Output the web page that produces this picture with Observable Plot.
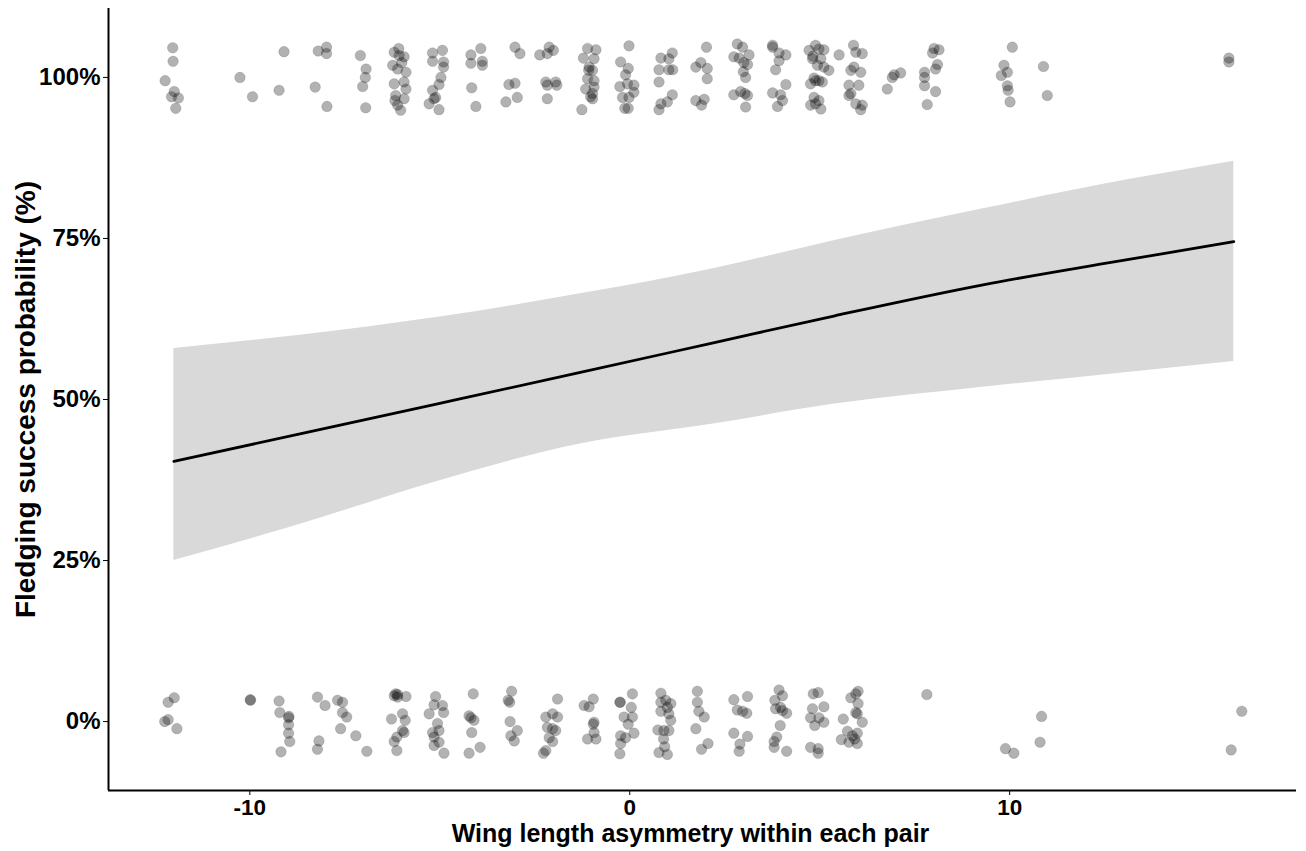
<!DOCTYPE html>
<html>
<head>
<meta charset="utf-8">
<script src="https://cdn.jsdelivr.net/npm/d3@7"></script>
<script src="https://cdn.jsdelivr.net/npm/@observablehq/plot@0.6"></script>
<style>
  html, body { margin: 0; padding: 0; background: #fff; }
  #chart { width: 1306px; height: 851px; }
</style>
</head>
<body>
<div id="chart"></div>
<script>
// ---- Data ----
// Fledged nests (outcome 1, shown with vertical jitter)
const fledgedX = [-12.03,-12.02,-12.23,-11.99,-12.06,-11.88,-11.95,-10.26,-9.93,-9.23,-9.10,-8.28,-8.20,-7.98,-7.98,-7.97,-7.09,-6.94,-6.96,-7.03,-6.95,
 -6.20,-6.07,-5.94,-6.24,-6.11,-5.89,-6.20,-5.94,-5.89,-6.16,-5.94,-6.11,-6.03,-6.08,-6.00,-6.18,
 -5.19,-4.93,-5.19,-4.90,-4.90,-4.97,-5.02,-5.19,-5.15,-5.28,-5.02,-5.11,
 -3.92,-4.18,-4.18,-3.88,-3.88,-4.16,-4.05,
 -3.02,-2.89,-3.18,-3.02,-2.96,-3.26,
 -2.37,-2.12,-2.17,-2.01,-2.21,-2.17,-1.95,-1.92,-2.17,
 -1.11,-0.89,-1.22,-0.94,-1.07,-0.98,-1.11,-0.94,-1.16,-0.94,-0.98,-0.98,-1.26,-1.03,-1.08,
 -0.02,-0.24,-0.04,-0.11,-0.26,-0.06,0.11,0.11,-0.19,-0.02,-0.13,-0.04,
 1.12,0.82,1.03,0.77,1.03,0.77,1.12,0.99,0.82,0.77,1.13,
 2.02,1.74,1.87,2.04,2.04,1.74,1.96,1.89,
 2.83,2.97,2.74,2.88,3.14,3.10,2.99,3.05,2.74,2.92,3.10,3.05,3.03,3.00,
 3.76,3.93,4.11,3.93,3.84,4.11,3.76,3.97,4.02,3.89,3.76,
 4.72,4.89,4.98,5.11,4.81,5.03,4.94,5.11,5.24,4.85,4.76,4.98,5.07,4.85,4.98,4.76,5.03,4.89,4.82,4.89,
 5.51,5.89,5.95,6.12,5.90,5.82,6.08,5.77,6.03,5.77,5.95,6.12,6.08,5.82,
 7.13,6.91,6.78,6.96,
 8.01,8.14,7.97,8.10,8.05,7.76,7.76,7.76,8.05,7.83,
 10.07,9.85,9.94,9.78,9.94,9.96,10.01,10.89,10.99,15.77,15.77];
const fledgedY = [1.046,1.025,0.995,0.978,0.970,0.968,0.952,1.000,0.970,0.980,1.040,0.985,1.041,1.047,1.037,0.955,1.034,1.013,1.000,0.986,0.953,
 1.039,1.034,1.032,1.019,1.013,1.008,0.990,0.993,0.982,0.972,0.967,0.957,0.949,1.045,1.023,0.964,
 1.038,1.042,1.025,1.024,1.016,1.000,0.989,0.980,0.967,0.959,0.950,0.969,
 1.045,1.035,1.022,1.025,1.019,0.984,0.955,
 1.047,1.037,0.989,0.991,0.969,0.962,
 1.035,1.047,1.037,1.042,0.993,0.988,0.993,0.988,0.967,
 1.045,1.043,1.030,1.029,1.016,1.011,0.998,0.995,0.982,0.985,0.975,0.967,0.950,0.970,1.011,
 1.049,1.024,1.014,1.004,0.986,0.990,0.988,0.977,0.969,0.969,0.952,0.952,
 1.038,1.030,1.029,1.012,1.012,0.993,0.973,0.962,0.959,0.950,1.012,
 1.047,1.016,1.023,1.014,0.998,0.964,0.966,0.957,
 1.052,1.047,1.032,1.030,1.035,1.020,1.009,1.000,0.973,0.978,0.972,0.954,0.975,1.023,
 1.047,1.038,1.035,1.026,1.012,0.989,0.976,0.973,0.964,0.955,1.050,
 1.042,1.050,1.044,1.043,1.029,1.029,1.019,1.016,1.011,0.999,0.990,0.995,0.993,0.969,0.964,0.957,0.951,0.959,1.033,0.995,
 1.035,1.050,1.039,1.037,1.016,1.011,1.008,0.988,0.988,0.972,0.959,0.957,0.950,0.975,
 1.007,1.000,0.982,1.004,
 1.045,1.043,1.038,1.020,1.013,1.008,1.000,0.987,0.978,0.958,
 1.047,1.019,1.008,1.003,0.987,0.980,0.962,1.017,0.972,1.030,1.024];

// Failed nests (outcome 0, shown with vertical jitter)
const failedX = [-11.99,-12.15,-12.24,-12.15,-11.92,-9.99,-9.98,-9.23,-9.21,-8.98,-8.97,-8.98,-8.98,-8.95,-9.18,
 -8.22,-8.02,-7.69,-7.56,-7.56,-7.45,-7.61,-7.21,-8.18,-8.22,-6.92,
 -6.16,-6.20,-6.11,-5.89,-5.98,-6.27,-5.91,-5.98,-5.94,-6.13,-6.20,-6.13,-6.11,
 -5.11,-5.15,-4.93,-5.28,-4.90,-5.06,-5.19,-5.02,-5.15,-5.02,-5.15,-4.89,
 -4.12,-4.23,-4.18,-4.10,-4.16,-3.94,-4.23,
 -3.11,-3.20,-3.15,-2.96,-3.13,-3.04,-3.16,
 -1.90,-2.03,-2.21,-1.90,-2.17,-2.03,-1.95,-2.12,-2.03,-2.21,-2.27,
 -0.96,-1.20,-1.07,-0.94,-0.96,-0.94,-1.11,-0.89,
 -0.26,-0.25,0.07,0.04,-0.15,0.07,-0.04,0.11,-0.24,-0.11,-0.24,-0.26,
 0.82,0.95,1.08,0.82,0.99,0.82,1.03,1.08,0.74,0.90,1.03,0.89,0.92,0.77,0.99,
 1.78,1.78,1.82,1.96,1.74,2.06,1.89,
 2.74,3.10,2.83,2.97,3.08,2.74,3.10,2.90,2.88,
 3.93,4.02,3.82,3.97,4.02,4.13,3.84,3.96,3.87,3.80,3.80,4.13,
 4.83,4.96,4.81,5.11,4.76,4.98,5.11,4.87,4.76,4.96,4.96,
 5.82,5.95,6.01,6.01,5.95,5.99,5.62,6.12,5.73,5.99,5.86,5.57,5.77,5.99,5.92,
 7.82,10.84,10.80,9.89,10.11,16.11,15.83];
const failedY = [0.037,0.030,0.000,0.003,-0.011,0.034,0.033,0.032,0.014,0.006,0.008,-0.005,-0.018,-0.031,-0.047,
 0.038,0.025,0.033,0.030,0.014,0.007,-0.011,-0.022,-0.030,-0.043,-0.046,
 0.043,0.040,0.038,0.039,0.012,0.004,0.002,-0.014,-0.017,-0.024,-0.031,-0.045,0.042,
 0.039,0.026,0.025,0.012,0.014,-0.003,-0.017,-0.014,-0.024,-0.032,-0.037,-0.049,
 0.043,0.009,0.006,0.002,-0.017,-0.040,-0.049,
 0.047,0.033,0.000,-0.014,-0.022,-0.030,0.030,
 0.035,0.012,0.007,0.007,-0.009,-0.011,-0.014,-0.025,-0.031,-0.045,-0.049,
 0.035,0.025,0.023,-0.001,-0.004,-0.017,-0.027,-0.027,
 0.030,0.030,0.043,0.022,0.007,0.007,-0.004,-0.018,-0.022,-0.025,-0.034,-0.050,
 0.044,0.033,0.028,0.030,0.022,0.016,0.012,0.002,-0.013,-0.014,-0.014,-0.027,-0.039,-0.048,-0.051,
 0.047,0.030,0.016,0.007,-0.011,-0.034,-0.043,
 0.034,0.039,0.018,0.016,0.013,-0.018,-0.023,-0.035,-0.046,
 0.049,0.040,0.033,0.022,0.017,0.013,0.020,-0.006,-0.024,-0.031,-0.040,-0.046,
 0.043,0.045,0.020,0.023,0.006,0.006,-0.001,-0.006,-0.040,-0.042,-0.049,
 0.037,0.043,0.047,0.028,0.014,0.012,0.004,-0.001,-0.015,-0.018,-0.022,-0.028,-0.032,-0.034,-0.027,
 0.042,0.008,-0.032,-0.042,-0.049,0.016,-0.044];

// Fitted logistic curve with its confidence band
const fitX     = [-12.0, -8.8, -5.0, -1.3, 2.2, 5.4, 9.3, 13.1, 15.9];
const fitProb  = [0.404, 0.445, 0.494, 0.542, 0.588, 0.630, 0.678, 0.717, 0.745];
const fitLower = [0.250, 0.304, 0.374, 0.431, 0.462, 0.493, 0.519, 0.542, 0.559];
const fitUpper = [0.579, 0.599, 0.628, 0.664, 0.703, 0.747, 0.796, 0.841, 0.870];

const xTicks = [-10, 0, 10];
const yTicks = [0, 0.25, 0.5, 0.75, 1];
const xTitle = "Wing length asymmetry within each pair";
const yTitle = "Fledging success probability (%)";

// ---- Build tables ----
const points = [
  ...fledgedX.map((x, i) => ({x, y: fledgedY[i]})),
  ...failedX.map((x, i) => ({x, y: failedY[i]}))
];
const fit = fitX.map((x, i) => ({x, p: fitProb[i], lo: fitLower[i], hi: fitUpper[i]}));

const xDomain = [-13.72, 17.55];
const yDomain = [-0.107, 1.107];

const chart = Plot.plot({
  width: 1306,
  height: 851,
  marginLeft: 108,
  marginRight: 10,
  marginTop: 8,
  marginBottom: 61,
  style: {fontFamily: "'Liberation Sans', Arial, sans-serif", fontWeight: "bold", color: "black", background: "white"},
  x: {domain: xDomain},
  y: {domain: yDomain},
  marks: [
    Plot.areaY(fit, {x: "x", y1: "lo", y2: "hi", fill: "#d9d9d9", curve: "monotone-x"}),
    Plot.line(fit, {x: "x", y: "p", stroke: "black", strokeWidth: 2.8, curve: "monotone-x"}),
    Plot.dot(points, {x: "x", y: "y", r: 5.3, fill: "black", fillOpacity: 0.3, stroke: "black", strokeOpacity: 0.12, strokeWidth: 1}),
    Plot.ruleX([xDomain[0]], {stroke: "black", strokeWidth: 2}),
    Plot.ruleY([yDomain[0]], {stroke: "black", strokeWidth: 2}),
    Plot.axisX({ticks: xTicks, tickSize: 5, tickPadding: 4, fontSize: 22.5, label: null, tickFormat: d => d}),
    Plot.axisY({ticks: yTicks, tickSize: 5, tickPadding: 3, fontSize: 24, label: null, tickFormat: d => Math.round(d * 100) + "%"}),
    Plot.text([xTitle], {frameAnchor: "bottom", lineAnchor: "middle", textAnchor: "middle", dy: 43, dx: -12, fontSize: 25, fontWeight: "bold", fill: "black"}),
    Plot.text([yTitle], {frameAnchor: "left", lineAnchor: "middle", textAnchor: "middle", dx: -82, rotate: -90, fontSize: 28, fontWeight: "bold", fill: "black"})
  ]
});
document.getElementById("chart").appendChild(chart);
</script>
</body>
</html>
